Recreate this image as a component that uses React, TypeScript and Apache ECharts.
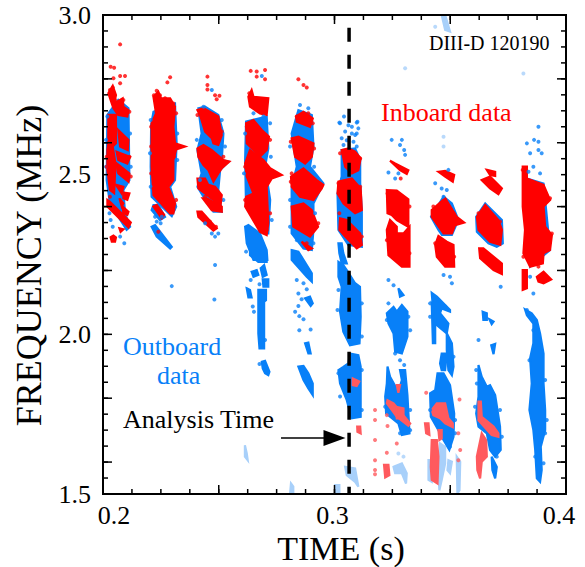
import * as echarts from "echarts";
import React, { useEffect, useRef } from "react";

type Pt = [number, number];

const xMinorTicks = [0.2, 0.2125, 0.225, 0.2375, 0.25, 0.2625, 0.275, 0.2875, 0.3, 0.3125, 0.325, 0.3375, 0.35, 0.3625, 0.375, 0.3875, 0.4];
const xMajorTicks = [0.2, 0.25, 0.3, 0.35, 0.4];
const xLabels = [0.2, 0.3, 0.4];
const yMinorTicks = [1.5, 1.55, 1.6, 1.65, 1.7, 1.75, 1.8, 1.85, 1.9, 1.95, 2, 2.05, 2.1, 2.15, 2.2, 2.25, 2.3, 2.35, 2.4, 2.45, 2.5, 2.55, 2.6, 2.65, 2.7, 2.75, 2.8, 2.85, 2.9, 2.95, 3];
const yMajorTicks = [1.6, 1.8, 2, 2.2, 2.4, 2.6, 2.8, 3];
const yLabels = [1.5, 2, 2.5, 3];

const analysisTime = [[0.3063, 2.96], [0.3063, 1.5]];
const arrowFrom = [0.2769, 1.675];
const arrowTo = [0.3, 1.675];
const frameCorners: Pt[] = [[0.2, 1.5], [0.4, 1.5], [0.4, 3], [0.2, 3]];

// outboard (blue) spots, [time, frequency] outlines
const outboardBlobs: Pt[][] = [
  [[0.2019, 2.687], [0.2066, 2.734], [0.211, 2.708], [0.2114, 2.483], [0.2088, 2.452], [0.2095, 2.379], [0.2117, 2.337], [0.2102, 2.327], [0.203, 2.41], [0.2016, 2.483]],
  [[0.2208, 2.656], [0.2218, 2.697], [0.2311, 2.723], [0.2318, 2.598], [0.2311, 2.483], [0.229, 2.462], [0.2316, 2.4], [0.2297, 2.37], [0.221, 2.431], [0.2206, 2.525]],
  [[0.221, 2.389], [0.2218, 2.405], [0.2239, 2.405], [0.2268, 2.368], [0.2246, 2.358]],
  [[0.221, 2.337], [0.2225, 2.342], [0.2297, 2.274], [0.229, 2.269], [0.2232, 2.306]],
  [[0.2412, 2.708], [0.2441, 2.713], [0.2498, 2.687], [0.252, 2.629], [0.2513, 2.546], [0.2542, 2.541], [0.2506, 2.515], [0.2498, 2.452], [0.2513, 2.384], [0.2477, 2.384], [0.2434, 2.431], [0.2408, 2.462], [0.2426, 2.504], [0.2408, 2.577], [0.2426, 2.629]],
  [[0.2618, 2.666], [0.2707, 2.682], [0.2714, 2.582], [0.27, 2.525], [0.2722, 2.421], [0.2714, 2.316], [0.2693, 2.316], [0.2618, 2.4], [0.2614, 2.546]],
  [[0.2614, 2.337], [0.2628, 2.342], [0.2678, 2.316], [0.2707, 2.264], [0.271, 2.233], [0.265, 2.233], [0.2621, 2.285]],
  [[0.2635, 2.269], [0.2657, 2.269], [0.2707, 2.243], [0.2707, 2.227], [0.2671, 2.227], [0.2635, 2.248]],
  [[0.2642, 2.196], [0.2664, 2.201], [0.2671, 2.186], [0.265, 2.18]],
  [[0.2681, 2.207], [0.2696, 2.217], [0.2707, 2.186], [0.269, 2.18]],
  [[0.269, 2.172], [0.2714, 2.172], [0.2714, 2.149], [0.2693, 2.149]],
  [[0.2621, 2.144], [0.2635, 2.139], [0.2642, 2.116], [0.2628, 2.116]],
  [[0.2671, 2.139], [0.2704, 2.139], [0.2704, 2.107], [0.2696, 2.102], [0.2696, 1.956], [0.2676, 1.956], [0.2671, 2.003], [0.2671, 2.118]],
  [[0.2686, 1.914], [0.27, 1.917], [0.2719, 1.883], [0.2714, 1.872], [0.27, 1.878], [0.269, 1.893]],
  [[0.2815, 2.629], [0.2844, 2.702], [0.2902, 2.687], [0.2909, 2.588], [0.2894, 2.525], [0.2952, 2.473], [0.2909, 2.41], [0.2909, 2.327], [0.2902, 2.264], [0.2866, 2.269], [0.2815, 2.316], [0.2815, 2.462], [0.2837, 2.525]],
  [[0.2815, 2.264], [0.2844, 2.259], [0.2902, 2.191], [0.2902, 2.165], [0.288, 2.18], [0.2815, 2.233]],
  [[0.2873, 2.113], [0.2894, 2.118], [0.2906, 2.097], [0.2897, 2.089]],
  [[0.2873, 1.972], [0.2887, 1.974], [0.2897, 1.94], [0.2887, 1.94]],
  [[0.2844, 1.899], [0.2866, 1.901], [0.2887, 1.878], [0.2906, 1.846], [0.2906, 1.81], [0.2887, 1.831], [0.2866, 1.857]],
  [[0.3031, 2.577], [0.3089, 2.582], [0.3111, 2.546], [0.3111, 2.473], [0.3118, 2.389], [0.3118, 2.274], [0.306, 2.28], [0.3017, 2.327], [0.3013, 2.441], [0.3031, 2.494]],
  [[0.3017, 2.285], [0.3031, 2.285], [0.3038, 2.254], [0.3053, 2.222], [0.3031, 2.222], [0.3021, 2.254]],
  [[0.3017, 2.227], [0.3038, 2.217], [0.3053, 2.201], [0.3089, 2.16], [0.311, 2.149], [0.3113, 2.055], [0.3108, 1.972], [0.3067, 1.966], [0.3038, 2.008], [0.3024, 2.071], [0.3031, 2.149], [0.3017, 2.18]],
  [[0.3017, 1.888], [0.3038, 1.898], [0.306, 1.909], [0.3067, 1.94], [0.3103, 1.935], [0.3113, 1.899], [0.3113, 1.742], [0.3074, 1.737], [0.3053, 1.794], [0.3024, 1.846]],
  [[0.3276, 2.144], [0.3298, 2.123], [0.3283, 2.118]],
  [[0.3226, 2.066], [0.3255, 2.086], [0.3269, 2.071], [0.3291, 2.092], [0.3315, 2.071], [0.3315, 1.993], [0.3291, 1.94], [0.3262, 1.946], [0.3255, 2.003], [0.3233, 2.034]],
  [[0.3229, 1.899], [0.324, 1.867], [0.3276, 1.82], [0.3291, 1.857], [0.3283, 1.888], [0.3305, 1.888], [0.3315, 1.81], [0.3324, 1.69], [0.3291, 1.685], [0.3276, 1.721], [0.3223, 1.752], [0.3219, 1.805], [0.3226, 1.846]],
  [[0.3417, 2.368], [0.3471, 2.431], [0.3507, 2.41], [0.3535, 2.358], [0.3507, 2.311], [0.3464, 2.311], [0.3449, 2.327]],
  [[0.342, 2.13], [0.3442, 2.118], [0.3499, 2.076], [0.3499, 2.071], [0.3463, 2.081], [0.3456, 2.066], [0.3492, 2.034], [0.3485, 2.003], [0.3442, 2.029], [0.3427, 2.066]],
  [[0.342, 2.097], [0.3435, 2.086], [0.3435, 1.972], [0.3425, 1.972]],
  [[0.3485, 2.003], [0.3507, 1.972], [0.3514, 1.899], [0.3507, 1.872], [0.3492, 1.888], [0.3485, 1.951]],
  [[0.3463, 1.94], [0.3485, 1.94], [0.3478, 1.888], [0.3463, 1.888], [0.3456, 1.909]],
  [[0.3445, 1.878], [0.3471, 1.878], [0.3499, 1.841], [0.3517, 1.752], [0.3514, 1.679], [0.3496, 1.638], [0.3471, 1.669], [0.3449, 1.7], [0.3416, 1.742], [0.3413, 1.815], [0.3435, 1.825]],
  [[0.3612, 2.368], [0.3651, 2.41], [0.3723, 2.358], [0.3727, 2.285], [0.3701, 2.274], [0.3665, 2.285], [0.3615, 2.321]],
  [[0.364, 2.071], [0.3658, 2.066], [0.3658, 2.045], [0.3643, 2.045]],
  [[0.3669, 2.047], [0.3687, 2.04], [0.3679, 2.032]],
  [[0.3677, 1.966], [0.3694, 1.97], [0.3687, 1.938]],
  [[0.3622, 1.904], [0.3636, 1.867], [0.3658, 1.836], [0.3672, 1.841], [0.3694, 1.81], [0.3715, 1.711], [0.3718, 1.638], [0.3694, 1.617], [0.3672, 1.638], [0.3658, 1.69], [0.3622, 1.711], [0.3612, 1.752], [0.3622, 1.805]],
  [[0.3679, 1.617], [0.3701, 1.585], [0.3694, 1.549], [0.3682, 1.575]],
  [[0.3823, 2.078], [0.3852, 2.066], [0.3874, 2.045], [0.3888, 2.003], [0.3903, 1.94], [0.3903, 1.846], [0.391, 1.763], [0.391, 1.7], [0.3891, 1.648], [0.3895, 1.575], [0.3888, 1.538], [0.3874, 1.549], [0.3867, 1.638], [0.3859, 1.7], [0.3842, 1.763], [0.3852, 1.846], [0.3845, 1.925], [0.3859, 1.972], [0.3859, 2.034], [0.3831, 2.06]],
  [[0.3831, 2.488], [0.3903, 2.472], [0.3931, 2.264], [0.3845, 2.212], [0.3831, 2.275]],
];

// inboard (red) spots
const inboardBlobs: Pt[][] = [
  [[0.2023, 2.755], [0.2042, 2.778], [0.2056, 2.749], [0.2048, 2.723], [0.2085, 2.739], [0.2088, 2.713], [0.211, 2.702], [0.2105, 2.682], [0.2066, 2.687], [0.2045, 2.708]],
  [[0.2023, 2.687], [0.2056, 2.687], [0.2056, 2.598], [0.2042, 2.588], [0.2056, 2.525], [0.2052, 2.504], [0.2048, 2.442], [0.203, 2.452], [0.2019, 2.515], [0.2019, 2.577], [0.2023, 2.598]],
  [[0.2066, 2.64], [0.211, 2.609], [0.2107, 2.577], [0.2074, 2.588]],
  [[0.2059, 2.572], [0.2117, 2.556], [0.2105, 2.535], [0.2066, 2.546]],
  [[0.2059, 2.535], [0.2114, 2.504], [0.211, 2.478], [0.2066, 2.504]],
  [[0.2056, 2.468], [0.2088, 2.462], [0.2081, 2.441]],
  [[0.2088, 2.444], [0.2114, 2.441], [0.2105, 2.421], [0.2088, 2.426]],
  [[0.2071, 2.426], [0.2088, 2.41], [0.2081, 2.4]],
  [[0.2019, 2.421], [0.203, 2.415], [0.212, 2.35], [0.211, 2.335], [0.2019, 2.4]],
  [[0.2085, 2.4], [0.211, 2.384], [0.2105, 2.374], [0.2088, 2.379]],
  [[0.2033, 2.304], [0.2045, 2.309], [0.2056, 2.303], [0.2052, 2.29], [0.2038, 2.29]],
  [[0.2071, 2.332], [0.2088, 2.329], [0.2076, 2.321]],
  [[0.2218, 2.744], [0.2239, 2.76], [0.2251, 2.739], [0.229, 2.739], [0.2311, 2.713], [0.2304, 2.65], [0.2311, 2.598], [0.2354, 2.588], [0.2316, 2.579], [0.2304, 2.546], [0.2304, 2.483], [0.2282, 2.462], [0.2311, 2.41], [0.2304, 2.379], [0.229, 2.379], [0.2218, 2.436], [0.221, 2.525], [0.221, 2.661], [0.2229, 2.692]],
  [[0.2218, 2.4], [0.2232, 2.405], [0.2264, 2.374], [0.2254, 2.363]],
  [[0.2408, 2.702], [0.2434, 2.708], [0.2498, 2.682], [0.2513, 2.624], [0.2498, 2.593], [0.2477, 2.598], [0.247, 2.614], [0.2441, 2.635], [0.2419, 2.687]],
  [[0.2408, 2.582], [0.2434, 2.593], [0.247, 2.577], [0.252, 2.546], [0.2546, 2.541], [0.2513, 2.52], [0.2498, 2.504], [0.2477, 2.478], [0.2455, 2.515], [0.2434, 2.53], [0.2412, 2.556]],
  [[0.2408, 2.488], [0.2441, 2.488], [0.2455, 2.468], [0.2484, 2.462], [0.2513, 2.436], [0.2506, 2.394], [0.2477, 2.421], [0.2412, 2.457]],
  [[0.2431, 2.426], [0.2448, 2.426], [0.2513, 2.4], [0.2513, 2.384], [0.247, 2.389]],
  [[0.2408, 2.384], [0.2426, 2.384], [0.2491, 2.332], [0.2477, 2.325], [0.2412, 2.368]],
  [[0.2628, 2.744], [0.2642, 2.765], [0.265, 2.744], [0.2714, 2.739], [0.2707, 2.687], [0.2678, 2.692], [0.2635, 2.713]],
  [[0.2618, 2.661], [0.265, 2.671], [0.2686, 2.64], [0.2717, 2.619], [0.2707, 2.577], [0.2678, 2.556], [0.265, 2.577], [0.2621, 2.598]],
  [[0.2614, 2.535], [0.2635, 2.577], [0.2693, 2.546], [0.2722, 2.52], [0.2772, 2.499], [0.2729, 2.488], [0.2707, 2.462], [0.2714, 2.348], [0.2707, 2.311], [0.2678, 2.321], [0.2614, 2.4], [0.2618, 2.431], [0.265, 2.441], [0.2621, 2.494]],
  [[0.2834, 2.682], [0.2866, 2.697], [0.2906, 2.676], [0.2894, 2.65], [0.2837, 2.666]],
  [[0.2815, 2.614], [0.2844, 2.619], [0.2909, 2.598], [0.2902, 2.556], [0.2873, 2.535], [0.283, 2.556]],
  [[0.2812, 2.494], [0.2866, 2.52], [0.2923, 2.483], [0.2952, 2.468], [0.2945, 2.457], [0.2909, 2.421], [0.2851, 2.431], [0.2815, 2.462]],
  [[0.2815, 2.4], [0.2866, 2.41], [0.2902, 2.389], [0.2929, 2.337], [0.2894, 2.306], [0.2822, 2.337]],
  [[0.2858, 2.29], [0.2902, 2.269], [0.2887, 2.264]],
  [[0.3031, 2.577], [0.306, 2.582], [0.3089, 2.572], [0.3113, 2.551], [0.3103, 2.514], [0.3075, 2.504], [0.3046, 2.525]],
  [[0.3017, 2.478], [0.3075, 2.488], [0.3113, 2.457], [0.3118, 2.389], [0.3089, 2.379], [0.3039, 2.41], [0.3013, 2.441]],
  [[0.3024, 2.363], [0.3053, 2.358], [0.3111, 2.316], [0.3118, 2.28], [0.3096, 2.269], [0.3046, 2.306], [0.3021, 2.327]],
  [[0.3226, 2.452], [0.3269, 2.45], [0.3319, 2.423], [0.3319, 2.337], [0.3269, 2.358], [0.3247, 2.374], [0.3229, 2.379]],
  [[0.3226, 2.327], [0.324, 2.358], [0.3269, 2.337], [0.3269, 2.316], [0.3298, 2.316], [0.3324, 2.337], [0.3324, 2.212], [0.3291, 2.212], [0.3233, 2.248]],
  [[0.324, 2.544], [0.3262, 2.535], [0.3319, 2.514], [0.3312, 2.502], [0.3283, 2.514]],
  [[0.342, 2.389], [0.3478, 2.426], [0.3528, 2.368], [0.356, 2.35], [0.3521, 2.342], [0.3507, 2.316], [0.3471, 2.316], [0.342, 2.368]],
  [[0.3435, 2.28], [0.3449, 2.308], [0.3485, 2.29], [0.3514, 2.28], [0.3517, 2.212], [0.3478, 2.212], [0.3442, 2.243]],
  [[0.3449, 2.509], [0.3478, 2.512], [0.3517, 2.499], [0.3511, 2.478], [0.3478, 2.494]],
  [[0.3615, 2.368], [0.3651, 2.405], [0.3708, 2.358], [0.3723, 2.327], [0.3716, 2.28], [0.3672, 2.29], [0.3622, 2.327]],
  [[0.3636, 2.483], [0.3672, 2.494], [0.3723, 2.457], [0.3708, 2.439], [0.3672, 2.457]],
  [[0.3658, 2.515], [0.3694, 2.509], [0.3694, 2.496], [0.3672, 2.499]],
  [[0.3625, 2.269], [0.3643, 2.269], [0.3723, 2.222], [0.3723, 2.189], [0.3687, 2.201], [0.3629, 2.238]],
  [[0.3813, 2.525], [0.3831, 2.525], [0.3831, 2.488], [0.3903, 2.468], [0.3931, 2.421], [0.3903, 2.4], [0.391, 2.337], [0.3939, 2.311], [0.3931, 2.264], [0.3903, 2.254], [0.39, 2.222], [0.3845, 2.212], [0.3816, 2.254], [0.3823, 2.327], [0.3813, 2.4]],
  [[0.3874, 2.18], [0.3903, 2.196], [0.3936, 2.172], [0.3903, 2.16], [0.3881, 2.165]],
  [[0.3813, 2.201], [0.3831, 2.201], [0.3831, 2.144], [0.3813, 2.139]],
];

// paler red spots under 1.9 MHz
const faintInboardBlobs: Pt[][] = [
  [[0.3079, 1.862], [0.3107, 1.852], [0.3096, 1.838], [0.3079, 1.841]],
  [[0.3098, 1.711], [0.3111, 1.711], [0.3113, 1.69], [0.3099, 1.695]],
  [[0.3229, 1.794], [0.3255, 1.784], [0.3291, 1.752], [0.3327, 1.721], [0.3319, 1.714], [0.3269, 1.742], [0.3226, 1.784]],
  [[0.3266, 1.773], [0.3298, 1.768], [0.3298, 1.737], [0.3269, 1.737]],
  [[0.3269, 1.841], [0.3283, 1.841], [0.3276, 1.817]],
  [[0.3214, 1.591], [0.3233, 1.591], [0.3237, 1.559], [0.3219, 1.552]],
  [[0.342, 1.669], [0.3442, 1.669], [0.3449, 1.617], [0.3445, 1.533], [0.342, 1.544], [0.3416, 1.585]],
  [[0.342, 1.763], [0.3442, 1.784], [0.3478, 1.784], [0.3492, 1.737], [0.3511, 1.721], [0.3511, 1.709], [0.3478, 1.721], [0.3456, 1.737], [0.3427, 1.747]],
  [[0.3449, 1.7], [0.3463, 1.7], [0.3463, 1.674], [0.3453, 1.669]],
  [[0.3391, 1.721], [0.3406, 1.721], [0.341, 1.685], [0.3396, 1.69]],
  [[0.3622, 1.789], [0.3632, 1.789], [0.3636, 1.742], [0.3687, 1.711], [0.3708, 1.69], [0.3708, 1.679], [0.3679, 1.685], [0.3622, 1.731]],
  [[0.3636, 1.69], [0.3655, 1.669], [0.3658, 1.617], [0.3636, 1.601], [0.3629, 1.549], [0.3617, 1.575], [0.3615, 1.617]],
];

// paler blue spots, mostly along the bottom of the frame
const faintOutboardBlobs: Pt[][] = [
  [[0.3463, 3], [0.3478, 3], [0.3499, 2.948], [0.3478, 2.953]],
  [[0.2613, 1.653], [0.2621, 1.627], [0.2625, 1.606], [0.2613, 1.617]],
  [[0.2812, 1.533], [0.2822, 1.523], [0.2822, 1.5], [0.2808, 1.5]],
  [[0.3003, 1.528], [0.3021, 1.528], [0.3021, 1.5], [0.3003, 1.5]],
  [[0.3046, 1.585], [0.3089, 1.58], [0.3103, 1.523], [0.3089, 1.538], [0.3053, 1.559]],
  [[0.3255, 1.585], [0.3291, 1.596], [0.3312, 1.565], [0.3309, 1.533], [0.3291, 1.565], [0.3262, 1.565]],
  [[0.3406, 1.606], [0.342, 1.606], [0.342, 1.538], [0.3406, 1.544]],
  [[0.3456, 1.658], [0.3478, 1.648], [0.3478, 1.596], [0.3463, 1.544], [0.3453, 1.512], [0.3449, 1.564]],
  [[0.3528, 1.617], [0.3543, 1.601], [0.354, 1.512], [0.3531, 1.502]],
  [[0.3492, 1.606], [0.3507, 1.601], [0.3499, 1.565], [0.3488, 1.575]],
];

const outboardSpecks: Pt[] = [
  [0.2042, 2.337], [0.2074, 2.306], [0.2092, 2.285], [0.2033, 2.358],
  [0.2232, 2.353], [0.2254, 2.368],
  [0.2441, 2.348], [0.2484, 2.306], [0.2498, 2.316], [0.247, 2.316], [0.247, 2.765],
  [0.2638, 2.17], [0.2676, 2.157], [0.2647, 2.087], [0.2652, 2.071], [0.27, 1.982], [0.2676, 1.907], [0.2618, 2.259], [0.2686, 2.809],
  [0.2837, 2.17], [0.2866, 2.16], [0.288, 2.141], [0.2844, 2.128], [0.2858, 2.11], [0.2844, 2.089], [0.283, 2.071], [0.2848, 2.057], [0.2866, 2.047], [0.2897, 2.015], [0.2848, 2.013],
  [0.3021, 2.663], [0.3041, 2.682], [0.306, 2.655], [0.3099, 2.666], [0.3103, 2.645], [0.3046, 2.635], [0.3075, 2.629], [0.3089, 2.624], [0.3031, 2.614], [0.3053, 2.608], [0.3082, 2.603], [0.3039, 2.593], [0.3096, 2.588],
  [0.3024, 2.661], [0.3096, 2.663], [0.3075, 2.65], [0.3096, 2.629],
  [0.3247, 2.609], [0.3291, 2.609], [0.3283, 2.593], [0.3301, 2.577], [0.3305, 2.562], [0.3233, 2.507], [0.3262, 2.488], [0.3276, 2.504],
  [0.3233, 2.17], [0.3255, 2.154], [0.3283, 1.919], [0.3301, 1.904],
  [0.3435, 2.473], [0.3463, 2.457], [0.3485, 2.452], [0.3471, 2.431], [0.3492, 2.515], [0.3471, 2.186], [0.3499, 2.18], [0.3507, 2.16],
  [0.3622, 1.982], [0.3718, 2.149],
  [0.3881, 2.65], [0.3862, 2.609], [0.3881, 2.603], [0.3831, 2.598], [0.3845, 2.567], [0.3881, 2.577], [0.3895, 2.567], [0.3859, 2.525], [0.3888, 2.504], [0.3838, 2.509], [0.3859, 2.128], [0.3845, 2.18],
  [0.2297, 2.151], [0.2484, 2.217], [0.2481, 2.109],
  // along the edges of the bursts
  [0.2013, 2.609], [0.2013, 2.525], [0.2028, 2.379], [0.2117, 2.629], [0.212, 2.525], [0.2019, 2.682],
  [0.2206, 2.671], [0.2203, 2.567], [0.2206, 2.462], [0.2321, 2.546], [0.2321, 2.629], [0.2225, 2.368], [0.2249, 2.348],
  [0.2434, 2.713], [0.2513, 2.671], [0.2527, 2.588], [0.252, 2.421], [0.2419, 2.483], [0.2405, 2.609],
  [0.2614, 2.629], [0.2609, 2.504], [0.2722, 2.661], [0.2725, 2.556], [0.2729, 2.358], [0.265, 2.692], [0.2693, 2.682],
  [0.2808, 2.588], [0.2808, 2.421], [0.2851, 2.718], [0.2887, 2.708], [0.2912, 2.525], [0.2916, 2.379], [0.2837, 2.295], [0.2909, 2.285], [0.2808, 2.337],
  [0.3017, 2.139], [0.3013, 2.076], [0.3118, 2.097], [0.3118, 1.993], [0.3017, 1.878], [0.3118, 1.888], [0.3024, 1.805], [0.3118, 1.763],
  [0.3226, 2.045], [0.3233, 2.097], [0.3319, 2.055], [0.3327, 2.013], [0.3219, 1.773], [0.3327, 1.763], [0.3327, 1.7], [0.3283, 1.69], [0.3262, 1.94],
  [0.3413, 2.097], [0.3413, 2.055], [0.3449, 2.107], [0.3478, 2.087], [0.3514, 1.93], [0.3413, 1.763], [0.3521, 1.732], [0.3521, 1.69], [0.3499, 1.648],
  [0.3612, 1.888], [0.3615, 1.846], [0.3607, 1.773], [0.3715, 1.763], [0.3723, 1.679], [0.3701, 1.617], [0.3694, 1.57],
  [0.3831, 2.076], [0.3845, 2.055], [0.3859, 2.013], [0.3842, 1.919], [0.391, 1.857], [0.3917, 1.732], [0.391, 1.69], [0.3888, 1.658], [0.3903, 1.596], [0.3867, 1.617],
];

const inboardSpecks: Pt[] = [
  [0.2074, 2.908], [0.2033, 2.838], [0.2048, 2.835], [0.2074, 2.809], [0.2095, 2.809], [0.2074, 2.786], [0.2045, 2.802],
  [0.2239, 2.321], [0.2278, 2.789], [0.229, 2.805],
  [0.2451, 2.807], [0.2451, 2.781], [0.2451, 2.767], [0.2484, 2.749], [0.2491, 2.736], [0.2503, 2.747],
  [0.2638, 2.825], [0.2664, 2.823], [0.27, 2.828], [0.2664, 2.807], [0.27, 2.799],
  [0.2844, 2.799], [0.2866, 2.781], [0.288, 2.773],
  [0.3286, 2.488],
  // along the edges of the bursts
  [0.2042, 2.773], [0.203, 2.765], [0.2052, 2.734], [0.2088, 2.734], [0.2114, 2.697], [0.2016, 2.556], [0.2016, 2.525], [0.2114, 2.556], [0.212, 2.494], [0.203, 2.431], [0.2102, 2.379],
  [0.222, 2.749], [0.2232, 2.763], [0.2246, 2.749], [0.2268, 2.739], [0.2304, 2.723], [0.2316, 2.692], [0.2208, 2.65], [0.2208, 2.588], [0.2208, 2.504], [0.2218, 2.457], [0.2307, 2.556], [0.2316, 2.421], [0.2304, 2.389],
  [0.2408, 2.687], [0.2426, 2.702], [0.2513, 2.635], [0.252, 2.556], [0.2441, 2.431], [0.2508, 2.421], [0.2419, 2.379], [0.2462, 2.353], [0.2488, 2.337],
  [0.2635, 2.734], [0.2707, 2.734], [0.2621, 2.65], [0.2722, 2.609], [0.2614, 2.525], [0.2614, 2.421], [0.2722, 2.379], [0.2707, 2.327], [0.2632, 2.755],
  [0.2837, 2.682], [0.2887, 2.692], [0.2906, 2.661], [0.2811, 2.603], [0.2912, 2.582], [0.2815, 2.504], [0.2811, 2.478], [0.293, 2.468], [0.2822, 2.395], [0.293, 2.348], [0.288, 2.285],
  [0.3024, 2.567], [0.3111, 2.551], [0.3017, 2.473], [0.3111, 2.462], [0.3021, 2.379], [0.3118, 2.306],
  [0.3229, 2.441], [0.3324, 2.4], [0.3226, 2.295], [0.3324, 2.254],
  [0.3427, 2.4], [0.3478, 2.421], [0.3514, 2.379], [0.3435, 2.285], [0.3517, 2.243],
  [0.3622, 2.379], [0.3715, 2.353], [0.3701, 2.295], [0.3651, 2.254],
  [0.3813, 2.515], [0.3931, 2.426], [0.3939, 2.316], [0.3816, 2.243], [0.3881, 2.212],
];

const faintInboardSpecks: Pt[] = [
  [0.3175, 1.763], [0.3175, 1.732], [0.3226, 1.747], [0.3229, 1.713], [0.3175, 1.669], [0.3269, 1.658], [0.3226, 1.629], [0.3175, 1.606], [0.3175, 1.575], [0.3175, 1.562],
  [0.3396, 1.817], [0.354, 1.796], [0.3535, 1.69], [0.3543, 1.638], [0.3535, 1.606],
];

const faintOutboardSpecks: Pt[] = [
  [0.3435, 2.963], [0.3305, 2.833], [0.3816, 2.817], [0.3471, 2.619], [0.3471, 2.588], [0.3276, 1.627], [0.3298, 1.617],
];

const BLUE = "#0880F8";
const RED = "#FF0000";
const PALE_BLUE = "#A8D0FA";
const PALE_RED = "#FF5A5E";
const SERIF = "Liberation Serif";

const blobSeries = (blobs: Pt[][], color: string) => ({
  type: "custom",
  xAxisIndex: 0,
  yAxisIndex: 0,
  clip: true,
  data: blobs.map((b) => b[0]),
  renderItem: (params: any, api: any) => ({
    type: "polygon",
    shape: { points: blobs[params.dataIndex].map((p) => api.coord(p)) },
    style: { fill: color, stroke: color, lineWidth: 2.2 },
  }),
});

const speckSeries = (points: Pt[], color: string) => ({
  type: "scatter",
  xAxisIndex: 0,
  yAxisIndex: 0,
  symbolSize: 4,
  itemStyle: { color },
  data: points,
});

// the frame and its inward ticks, on all four sides
const frameSeries = () => ({
  type: "custom",
  xAxisIndex: 0,
  yAxisIndex: 0,
  clip: false,
  silent: true,
  z: 8,
  data: [frameCorners[0]],
  renderItem: (_: any, api: any) => ({
    type: "polygon",
    shape: { points: frameCorners.map((p) => api.coord(p)) },
    style: { fill: "none", stroke: "#000", lineWidth: 2 },
  }),
});

const tickSeries = (ticks: number[], horizontal: boolean, length: number) => ({
  type: "custom",
  xAxisIndex: 0,
  yAxisIndex: 0,
  clip: false,
  silent: true,
  z: 8,
  data: ticks.map((v) => (horizontal ? [v, 1.5] : [0.2, v])),
  renderItem: (params: any, api: any) => {
    const v = ticks[params.dataIndex];
    const a = api.coord(horizontal ? [v, 1.5] : [0.2, v]);
    const b = api.coord(horizontal ? [v, 3] : [0.4, v]);
    const style = { stroke: "#000", lineWidth: 1.5 };
    return {
      type: "group",
      children: horizontal
        ? [
            { type: "line", shape: { x1: a[0], y1: a[1], x2: a[0], y2: a[1] - length }, style },
            { type: "line", shape: { x1: b[0], y1: b[1], x2: b[0], y2: b[1] + length }, style },
          ]
        : [
            { type: "line", shape: { x1: a[0], y1: a[1], x2: a[0] + length, y2: a[1] }, style },
            { type: "line", shape: { x1: b[0], y1: b[1], x2: b[0] - length, y2: b[1] }, style },
          ],
    };
  },
});

const axisLine = { show: true, lineStyle: { color: "#000", width: 2 } };

const xAxis = {
  type: "value",
  min: 0.2,
  max: 0.4,
  splitLine: { show: false },
  axisLine,
  axisTick: { show: false },
  axisLabel: {
    customValues: xLabels,
    margin: 8,
    formatter: (v: number) => `{${v === 0.2 ? "lo" : v === 0.4 ? "hi" : "mid"}|${v.toFixed(1)}}`,
    rich: {
      lo: { fontFamily: SERIF, fontSize: 26, color: "#000", padding: [0, 0, 0, 22] },
      mid: { fontFamily: SERIF, fontSize: 26, color: "#000", padding: [0, 4, 0, 0] },
      hi: { fontFamily: SERIF, fontSize: 26, color: "#000", padding: [0, 14, 0, 0] },
    },
  },
  name: "TIME (s)",
  nameLocation: "middle",
  nameGap: 37,
  nameMoveOverlap: false,
  nameTextStyle: { fontFamily: SERIF, fontSize: 34, color: "#000", padding: [0, 0, 0, 13] },
};

const yAxis = {
  type: "value",
  min: 1.5,
  max: 3,
  splitLine: { show: false },
  axisLine,
  axisTick: { show: false },
  axisLabel: {
    customValues: yLabels,
    margin: 12,
    fontFamily: SERIF,
    fontSize: 26,
    color: "#000",
    formatter: (v: number) => v.toFixed(1),
  },
  name: "FREQUENCY (MHz)",
  nameLocation: "middle",
  nameGap: 56,
  nameTextStyle: { fontFamily: SERIF, fontSize: 36, color: "#000", padding: [0, 22, 0, 0] },
};

const note = (text: string, left: number, top: number, fontSize: number, color: string) => ({
  type: "text",
  x: left,
  y: top,
  z: 20,
  style: { text, fontFamily: SERIF, fontSize, fill: color, textVerticalAlign: "middle" },
});

const option = {
  animation: false,
  backgroundColor: "#fff",
  grid: { left: 103, right: 19, top: 15, bottom: 73, outerBoundsMode: "none" },
  xAxis,
  yAxis,
  series: [
    blobSeries(faintOutboardBlobs, PALE_BLUE),
    speckSeries(faintOutboardSpecks, PALE_BLUE),
    blobSeries(outboardBlobs, BLUE),
    speckSeries(outboardSpecks, BLUE),
    blobSeries(faintInboardBlobs, PALE_RED),
    speckSeries(faintInboardSpecks, PALE_RED),
    blobSeries(inboardBlobs, RED),
    speckSeries(inboardSpecks, RED),
    frameSeries(),
    tickSeries(xMinorTicks, true, 5),
    tickSeries(xMajorTicks, true, 9),
    tickSeries(yMinorTicks, false, 5),
    tickSeries(yMajorTicks, false, 9),
    {
      type: "line",
      xAxisIndex: 0,
      yAxisIndex: 0,
      z: 10,
      symbol: "none",
      data: analysisTime,
      lineStyle: { color: "#000", width: 3.5, type: [14, 13] },
      markLine: {
        silent: true,
        symbol: ["none", "triangle"],
        symbolSize: [16, 22],
        label: { show: false },
        lineStyle: { color: "#000", width: 1.5, type: "solid" },
        data: [[{ coord: arrowFrom }, { coord: arrowTo }]],
      },
    },
  ],
  graphic: [
    note("DIII-D 120190", 429, 43, 20, "#000"),
    note("Inboard data", 381, 112, 26, RED),
    note("Outboard", 123, 346, 26, BLUE),
    note("data", 157, 375, 26, BLUE),
    note("Analysis Time", 123, 419, 26, "#000"),
  ],
};

const App: React.FC = () => {
  const chartRef = useRef<HTMLDivElement>(null);

  useEffect(() => {
    if (!chartRef.current) return;
    document.body.style.margin = "0";

    const chart = echarts.init(chartRef.current, null, { renderer: "svg" });
    chart.setOption(option as any);

    return () => {
      chart.dispose();
    };
  }, []);

  return <div ref={chartRef} style={{ width: 585, height: 567 }} />;
};

export default App;
